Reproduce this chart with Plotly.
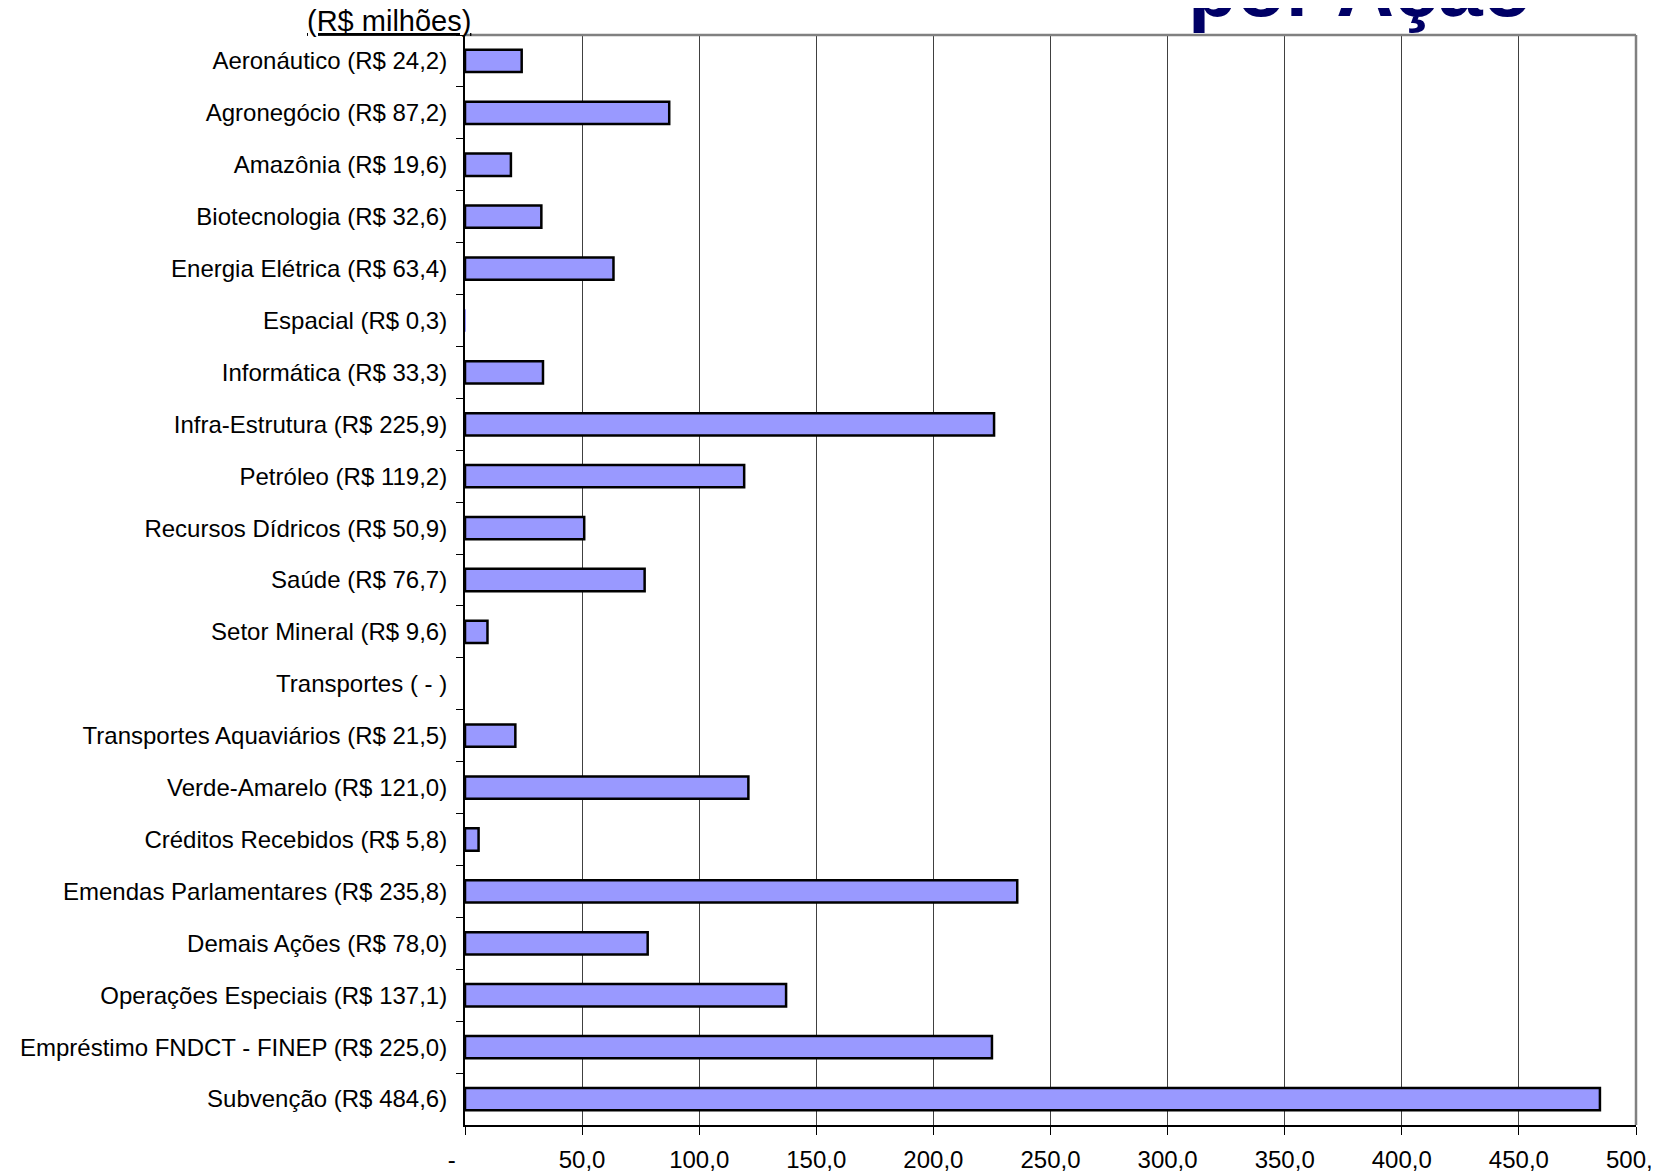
import plotly.graph_objs as go

# Categories and values (R$ milhões)
categories = [
    "Aeronáutico (R$ 24,2)",
    "Agronegócio (R$ 87,2)",
    "Amazônia (R$ 19,6)",
    "Biotecnologia (R$ 32,6)",
    "Energia Elétrica (R$ 63,4)",
    "Espacial (R$ 0,3)",
    "Informática (R$ 33,3)",
    "Infra-Estrutura (R$ 225,9)",
    "Petróleo (R$ 119,2)",
    "Recursos Dídricos (R$ 50,9)",
    "Saúde (R$ 76,7)",
    "Setor Mineral (R$ 9,6)",
    "Transportes ( - )",
    "Transportes Aquaviários (R$ 21,5)",
    "Verde-Amarelo (R$ 121,0)",
    "Créditos Recebidos (R$ 5,8)",
    "Emendas Parlamentares (R$ 235,8)",
    "Demais Ações (R$ 78,0)",
    "Operações Especiais (R$ 137,1)",
    "Empréstimo FNDCT - FINEP (R$ 225,0)",
    "Subvenção (R$ 484,6)",
]
values = [24.2, 87.2, 19.6, 32.6, 63.4, 0.3, 33.3, 225.9, 119.2, 50.9, 76.7,
          9.6, 0.0, 21.5, 121.0, 5.8, 235.8, 78.0, 137.1, 225.0, 484.6]

x_tickvals = [0, 50, 100, 150, 200, 250, 300, 350, 400, 450, 500]
x_ticktext = ["-\u00a0\u00a0\u00a0\u00a0", "50,0", "100,0", "150,0", "200,0", "250,0",
              "300,0", "350,0", "400,0", "450,0", "500,0"]

font_family = "Arial, Liberation Sans, sans-serif"

# bars that are too small to show keep no outline
outline_widths = [2.5 if v >= 1 else 0 for v in values]

trace0 = go.Bar(
    x=values,
    y=categories,
    orientation="h",
    marker=dict(color="#9999FF", line=dict(color="#000000", width=outline_widths)),
    hoverinfo="x+y",
)

# the page body has an 8px margin, so the figure is sized to fit inside it
layout = go.Layout(
    width=1651,
    height=1163,
    margin=dict(l=457, r=23, t=27, b=46),
    plot_bgcolor="white",
    paper_bgcolor="white",
    font=dict(family=font_family, size=24, color="#000000"),
    bargap=0.57,
    showlegend=False,
    xaxis=dict(
        range=[0, 500],
        tickvals=x_tickvals,
        ticktext=x_ticktext,
        ticks="outside",
        ticklen=8,
        tickcolor="#000000",
        ticklabelstandoff=4,
        ticklabeloverflow="allow",
        showgrid=True,
        gridcolor="#404040",
        gridwidth=1,
        zeroline=False,
        showline=True,
        linecolor="#000000",
        linewidth=1.5,
        automargin=False,
    ),
    yaxis=dict(
        type="category",
        autorange="reversed",
        ticks="outside",
        tickson="boundaries",
        ticklen=7,
        tickcolor="#000000",
        ticklabelstandoff=11,
        showgrid=False,
        zeroline=False,
        showline=True,
        linecolor="#000000",
        linewidth=2,
        automargin=False,
    ),
    shapes=[
        # gray frame on top and right, Excel style
        dict(type="line", xref="paper", yref="paper", x0=0, x1=1, y0=1, y1=1,
             line=dict(color="#808080", width=2.5)),
        dict(type="line", xref="paper", yref="paper", x0=1, x1=1, y0=0, y1=1,
             line=dict(color="#808080", width=2.5)),
    ],
    annotations=[
        dict(
            text="<u>(R$ milhões)</u>",
            xref="paper", yref="paper",
            x=0.007, y=1.0,
            xanchor="right", yanchor="bottom",
            yshift=-4,
            showarrow=False,
            font=dict(family=font_family, size=29, color="#000000"),
        ),
        dict(
            text="<b>por Ação</b>",
            xref="paper", yref="paper",
            x=0.764, y=1.0,
            xanchor="center", yanchor="bottom",
            yshift=0,
            showarrow=False,
            font=dict(family=font_family, size=80, color="#000066"),
        ),
    ],
)

fig = go.Figure(data=[trace0], layout=layout)
fig.write_html("out.html")
